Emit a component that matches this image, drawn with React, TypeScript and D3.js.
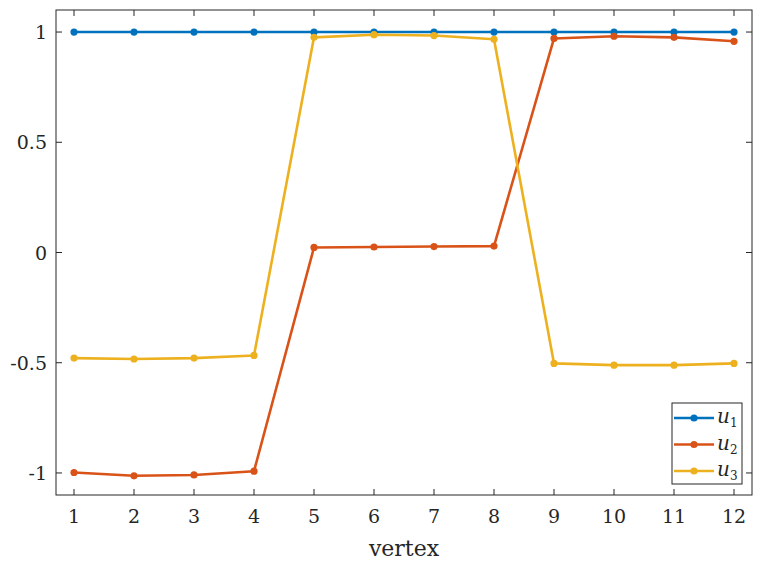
import React from "react";
import * as d3 from "d3";

const vertices = [1, 2, 3, 4, 5, 6, 7, 8, 9, 10, 11, 12];
const u1 = [1, 1, 1, 1, 1, 1, 1, 1, 1, 1, 1, 1];
const u2 = [-0.998, -1.013, -1.009, -0.992, 0.023, 0.025, 0.027, 0.029, 0.971, 0.981, 0.976, 0.958];
const u3 = [-0.479, -0.483, -0.479, -0.467, 0.976, 0.988, 0.984, 0.967, -0.503, -0.511, -0.511, -0.503];
const seriesNames = ["1", "2", "3"];
const colors = ["#0072BD", "#D95319", "#EDB120"];
const yTicks = [-1, -0.5, 0, 0.5, 1];
const yTickLabels = ["-1", "-0.5", "0", "0.5", "1"];

export default function App() {
  const W = 764, H = 567;
  const L = 56, R = 752, T = 10, B = 495;
  const x = d3.scaleLinear().domain([0.7, 12.3]).range([L, R]);
  const y = d3.scaleLinear().domain([-1.1, 1.1]).range([B, T]);
  const series = [u1, u2, u3];
  const line = d3.line<number>().x((_, i) => x(vertices[i])).y((d) => y(d));
  const font = "DejaVu Serif";
  const tl = 6;
  const legX = 672, legY = 403, legW = 70, legH = 81;
  return (
    <svg width={W} height={H} style={{ position: "absolute", left: 0, top: 0, background: "#fff" }}>
      <rect x={0} y={0} width={W} height={H} fill="#fff" />
      {series.map((s, k) => (
        <g key={k}>
          <path d={line(s) || ""} fill="none" stroke={colors[k]} strokeWidth={2.6} strokeLinejoin="round" />
          {s.map((v, i) => (
            <circle key={i} cx={x(vertices[i])} cy={y(v)} r={3.6} fill={colors[k]} />
          ))}
        </g>
      ))}
      <rect x={L} y={T} width={R - L} height={B - T} fill="none" stroke="#262626" strokeWidth={1} />
      {vertices.map((v) => (
        <g key={v}>
          <line x1={x(v)} x2={x(v)} y1={B} y2={B - tl} stroke="#262626" />
          <line x1={x(v)} x2={x(v)} y1={T} y2={T + tl} stroke="#262626" />
          <text x={x(v)} y={B + 28} textAnchor="middle" fontFamily={font} fontSize={19} fill="#262626">{v}</text>
        </g>
      ))}
      {yTicks.map((t, i) => (
        <g key={t}>
          <line x1={L} x2={L + tl} y1={y(t)} y2={y(t)} stroke="#262626" />
          <line x1={R} x2={R - tl} y1={y(t)} y2={y(t)} stroke="#262626" />
          <text x={L - 9} y={y(t) + 7} textAnchor="end" fontFamily={font} fontSize={19} fill="#262626">{yTickLabels[i]}</text>
        </g>
      ))}
      <text x={404} y={556} textAnchor="middle" fontFamily={font} fontSize={22} fill="#262626">vertex</text>
      <rect x={legX} y={legY} width={legW} height={legH} fill="#fff" stroke="#262626" strokeWidth={1} />
      {seriesNames.map((n, k) => {
        const ly = legY + 15 + k * 26.5;
        return (
          <g key={n}>
            <line x1={legX + 2} x2={legX + 42} y1={ly} y2={ly} stroke={colors[k]} strokeWidth={2.6} />
            <circle cx={legX + 22} cy={ly} r={3.6} fill={colors[k]} />
            <text x={legX + 45} y={ly + 5} fontFamily={font} fontSize={20} fontStyle="italic" fill="#262626">
              u<tspan fontSize={12} fontStyle="normal" dy={4}>{n}</tspan>
            </text>
          </g>
        );
      })}
    </svg>
  );
}
